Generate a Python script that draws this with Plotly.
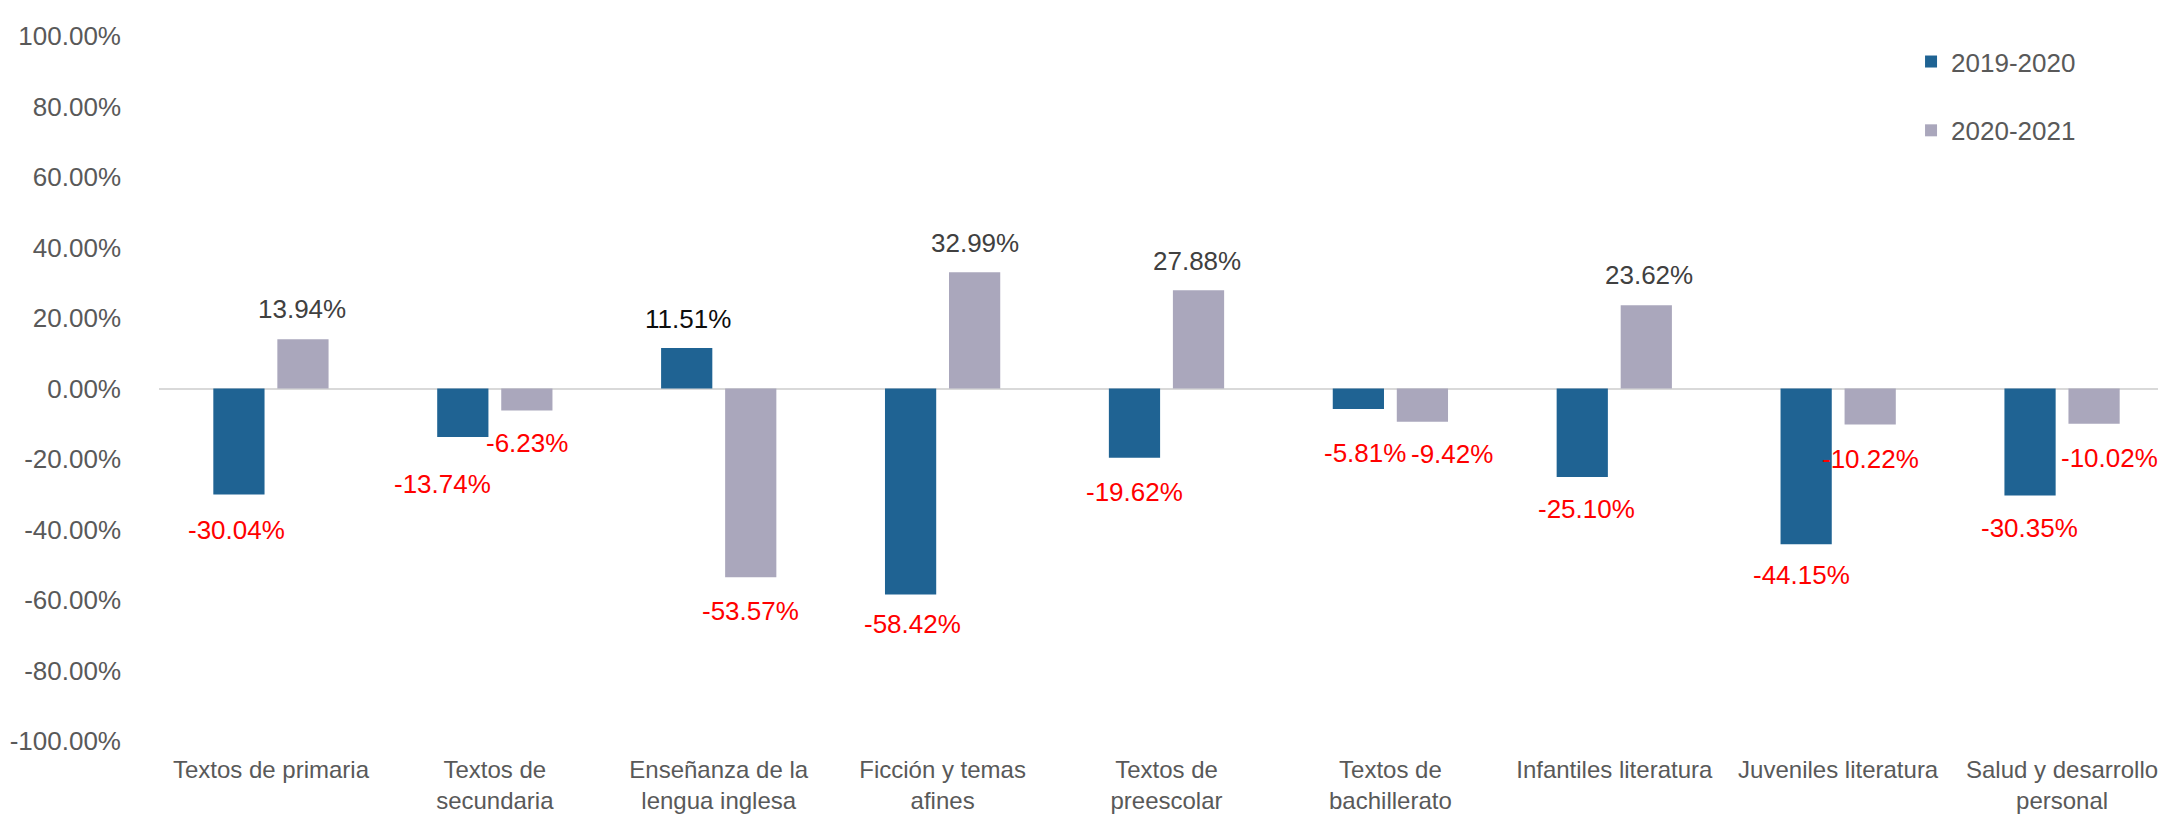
import plotly.graph_objects as go

categories = [
    "Textos de primaria",
    "Textos de<br>secundaria",
    "Enseñanza de la<br>lengua inglesa",
    "Ficción y temas<br>afines",
    "Textos de<br>preescolar",
    "Textos de<br>bachillerato",
    "Infantiles literatura",
    "Juveniles literatura",
    "Salud y desarrollo<br>personal",
]
series_names = ["2019-2020", "2020-2021"]
vals_2019_2020 = [-30.04, -13.74, 11.51, -58.42, -19.62, -5.81, -25.10, -44.15, -30.35]
vals_2020_2021 = [13.94, -6.23, -53.57, 32.99, 27.88, -9.42, 23.62, -10.22, -10.02]
y_ticks = [-100, -80, -60, -40, -20, 0, 20, 40, 60, 80, 100]
y_tick_text = [f"{v:.2f}%" for v in y_ticks]

# label placement styling (pixel offsets relative to bar ends)
lab_dx = [[-2, -20, 1, 2, 0, 7, 4, -5, -1], [-1, 0, 0, 0, -2, 30, 3, 0, 15]]
lab_dy = [[36, 47, 29, 30, 34, 44, 32, 31, 33], [30, 33, 34, 29, 29, 32, 30, 34, 34]]
bar_off = [-32, 32]

colors = ["#1F6393", "#AAA7BC"]
FONT = "Liberation Sans, Arial, sans-serif"
FS = 26

fig = go.Figure()
for k, (name, vals) in enumerate(zip(series_names, [vals_2019_2020, vals_2020_2021])):
    fig.add_trace(go.Bar(
        x=categories, y=vals, name=name, marker_color=colors[k],
        marker_line_width=0, legendgroup=name,
    ))

annotations = []
for k, vals in enumerate([vals_2019_2020, vals_2020_2021]):
    for i, v in enumerate(vals):
        if v < 0:
            col = "#FF0000"
        elif k == 0:
            col = "#0D0D0D"
        else:
            col = "#404040"
        annotations.append(dict(
            x=categories[i], y=v, text=f"{v:.2f}%", showarrow=False,
            xshift=bar_off[k] + lab_dx[k][i],
            yshift=(lab_dy[k][i] if v >= 0 else -lab_dy[k][i]),
            xanchor="center", yanchor="middle",
            font=dict(family=FONT, size=FS, color=col),
        ))

fig.update_layout(
    width=2166, height=824,
    margin=dict(l=151, r=0, t=28, b=91, autoexpand=False),
    plot_bgcolor="white", paper_bgcolor="white",
    barmode="group", bargap=0.428, bargroupgap=0.2,
    font=dict(family=FONT, size=FS, color="#595959"),
    annotations=annotations,
    showlegend=True,
    legend=dict(
        x=0.8695, y=0.997, xanchor="left", yanchor="top",
        font=dict(family=FONT, size=FS, color="#595959"),
        tracegroupgap=32, bgcolor="rgba(0,0,0,0)",
    ),
)
fig.update_yaxes(
    range=[-100, 100], tickvals=y_ticks, ticktext=y_tick_text, automargin=False,
    showgrid=False, zeroline=True, zerolinecolor="#D9D9D9", zerolinewidth=2,
    showline=False, ticks="", ticklabelstandoff=37,
    tickfont=dict(family=FONT, size=FS, color="#595959"),
)
fig.update_xaxes(
    showgrid=False, showline=False, ticks="", ticklabelstandoff=12, automargin=False,
    tickfont=dict(family=FONT, size=24, color="#595959"), tickangle=0,
)

fig.write_html("out.html")
